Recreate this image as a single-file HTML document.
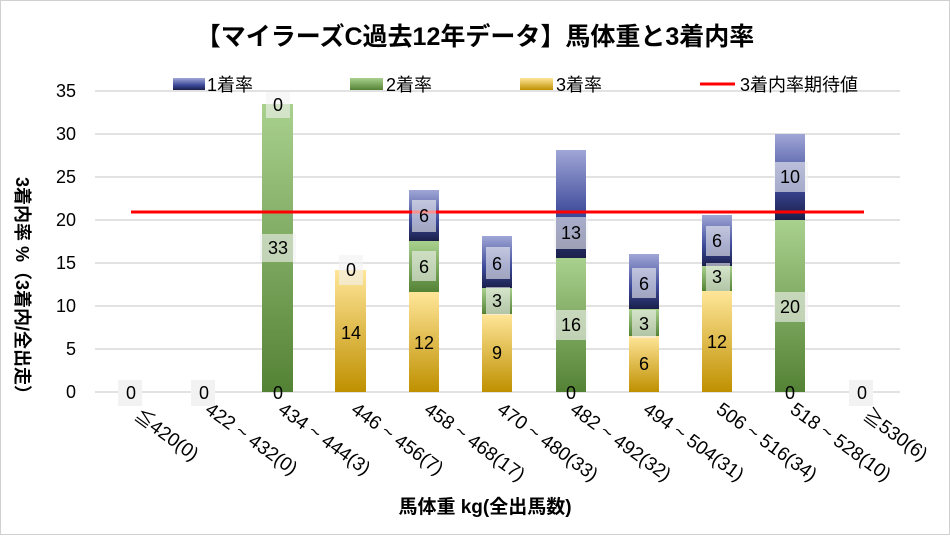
<!DOCTYPE html>
<html><head><meta charset="utf-8"><style>
body{margin:0;background:#fff}
text{font-family:"Liberation Sans","Noto Sans CJK JP",sans-serif}
</style></head><body>
<svg width="950" height="535" xmlns="http://www.w3.org/2000/svg">
<defs>
<linearGradient id="g" x1="0" y1="0" x2="0" y2="1"><stop offset="0" stop-color="#a9d18e"/><stop offset="1" stop-color="#548235"/></linearGradient>
<linearGradient id="y" x1="0" y1="0" x2="0" y2="1"><stop offset="0" stop-color="#ffe699"/><stop offset="1" stop-color="#bf9000"/></linearGradient>
<linearGradient id="b" x1="0" y1="0" x2="0" y2="1"><stop offset="0" stop-color="#a0a6d6"/><stop offset="0.6" stop-color="#3d4a9a"/><stop offset="1" stop-color="#1a1f4a"/></linearGradient>
</defs>
<rect x="0.5" y="0.5" width="949" height="534" fill="#fff" stroke="#d0d0d0"/>
<text x="475" y="45" font-size="25" font-weight="bold" text-anchor="middle">【マイラーズC過去12年データ】馬体重と3着内率</text>
<g stroke="#d9d9d9" stroke-width="1.5">
<line x1="95" x2="900" y1="392" y2="392"/><line x1="95" x2="900" y1="349" y2="349"/><line x1="95" x2="900" y1="306" y2="306"/><line x1="95" x2="900" y1="263" y2="263"/><line x1="95" x2="900" y1="220" y2="220"/><line x1="95" x2="900" y1="177" y2="177"/><line x1="95" x2="900" y1="134" y2="134"/><line x1="95" x2="900" y1="91" y2="91"/>
</g>
<g font-size="18" text-anchor="end">
<text x="76" y="398">0</text><text x="76" y="355">5</text><text x="76" y="312">10</text><text x="76" y="269">15</text><text x="76" y="226">20</text><text x="76" y="183">25</text><text x="76" y="140">30</text><text x="76" y="97">35</text>
</g>
<rect x="173" y="78" width="32" height="12" fill="url(#b)"/><text x="207" y="91" font-size="18">1着率</text>
<rect x="350" y="78" width="33" height="12" fill="url(#g)"/><text x="386" y="91" font-size="18">2着率</text>
<rect x="520" y="78" width="33" height="12" fill="url(#y)"/><text x="556" y="91" font-size="18">3着率</text>
<line x1="700" x2="735" y1="84" y2="84" stroke="#f00" stroke-width="3"/><text x="740" y="91" font-size="18">3着内率期待値</text>
<rect x="262" y="104" width="31" height="288" fill="url(#g)"/>
<rect x="335" y="270" width="31" height="122" fill="url(#y)"/>
<rect x="409" y="292" width="30" height="100" fill="url(#y)"/>
<rect x="409" y="241" width="30" height="51" fill="url(#g)"/>
<rect x="409" y="190" width="30" height="51" fill="url(#b)"/>
<rect x="482" y="314" width="30" height="78" fill="url(#y)"/>
<rect x="482" y="288" width="30" height="26" fill="url(#g)"/>
<rect x="482" y="236" width="30" height="52" fill="url(#b)"/>
<rect x="556" y="258" width="30" height="134" fill="url(#g)"/>
<rect x="556" y="150" width="30" height="108" fill="url(#b)"/>
<rect x="629" y="336" width="30" height="56" fill="url(#y)"/>
<rect x="629" y="309" width="30" height="27" fill="url(#g)"/>
<rect x="629" y="254" width="30" height="55" fill="url(#b)"/>
<rect x="702" y="291" width="30" height="101" fill="url(#y)"/>
<rect x="702" y="266" width="30" height="25" fill="url(#g)"/>
<rect x="702" y="215" width="30" height="51" fill="url(#b)"/>
<rect x="775" y="220" width="30" height="172" fill="url(#g)"/>
<rect x="775" y="134" width="30" height="86" fill="url(#b)"/>
<line x1="131" x2="864" y1="212" y2="212" stroke="#f00" stroke-width="3"/>
<g font-size="18" text-anchor="middle">
<g fill="#f2f2f2" fill-opacity="0.6">
<rect x="118" y="380" width="24" height="26" fill-opacity="1"/><rect x="191" y="380" width="24" height="26" fill-opacity="1"/><rect x="849" y="380" width="24" height="26" fill-opacity="1"/>
<rect x="266" y="92" width="24" height="26"/><rect x="260" y="234" width="36" height="28"/>
<rect x="339" y="255" width="24" height="30"/>
<rect x="412" y="200" width="24" height="32"/><rect x="412" y="251" width="24" height="30"/>
<rect x="486" y="247" width="24" height="32"/><rect x="486" y="287" width="24" height="28"/>
<rect x="554" y="217" width="34" height="32"/><rect x="554" y="310" width="34" height="30"/>
<rect x="632" y="268" width="24" height="30"/><rect x="632" y="310" width="24" height="28"/>
<rect x="706" y="226" width="24" height="30"/><rect x="706" y="263" width="24" height="28"/>
<rect x="774" y="162" width="34" height="30"/><rect x="774" y="292" width="34" height="30"/>
</g>
<text x="131" y="399">0</text><text x="204" y="399">0</text><text x="862" y="399">0</text>
<text x="278" y="111">0</text><text x="278" y="254">33</text><text x="278" y="399">0</text>
<text x="351" y="276">0</text><text x="351" y="339">14</text>
<text x="424" y="222">6</text><text x="424" y="273">6</text><text x="424" y="349">12</text>
<text x="497" y="270">6</text><text x="497" y="307">3</text><text x="497" y="359">9</text>
<text x="571" y="239">13</text><text x="571" y="331">16</text><text x="571" y="399">0</text>
<text x="644" y="290">6</text><text x="644" y="330">3</text><text x="644" y="370">6</text>
<text x="717" y="247">6</text><text x="717" y="283">3</text><text x="717" y="348">12</text>
<text x="790" y="183">10</text><text x="790" y="313">20</text><text x="790" y="399">0</text>
</g>
<g font-size="19">
<text transform="translate(133,418) rotate(36)">≦420(0)</text>
<text transform="translate(204,412) rotate(36)">422 ~ 432(0)</text>
<text transform="translate(277,412) rotate(36)">434 ~ 444(3)</text>
<text transform="translate(350,412) rotate(36)">446 ~ 456(7)</text>
<text transform="translate(423,412) rotate(36)">458 ~ 468(17)</text>
<text transform="translate(496,412) rotate(36)">470 ~ 480(33)</text>
<text transform="translate(569,412) rotate(36)">482 ~ 492(32)</text>
<text transform="translate(642,412) rotate(36)">494 ~ 504(31)</text>
<text transform="translate(715,412) rotate(36)">506 ~ 516(34)</text>
<text transform="translate(789,412) rotate(36)">518 ~ 528(10)</text>
<text transform="translate(862,418) rotate(36)">≧530(6)</text>
</g>
<text x="485" y="513" font-size="19" font-weight="bold" text-anchor="middle">馬体重 kg(全出馬数)</text>
<text transform="translate(16,290) rotate(90)" font-size="18" font-weight="bold" text-anchor="middle">3着内率 %（3着内/全出走）</text>
</svg>
</body></html>
